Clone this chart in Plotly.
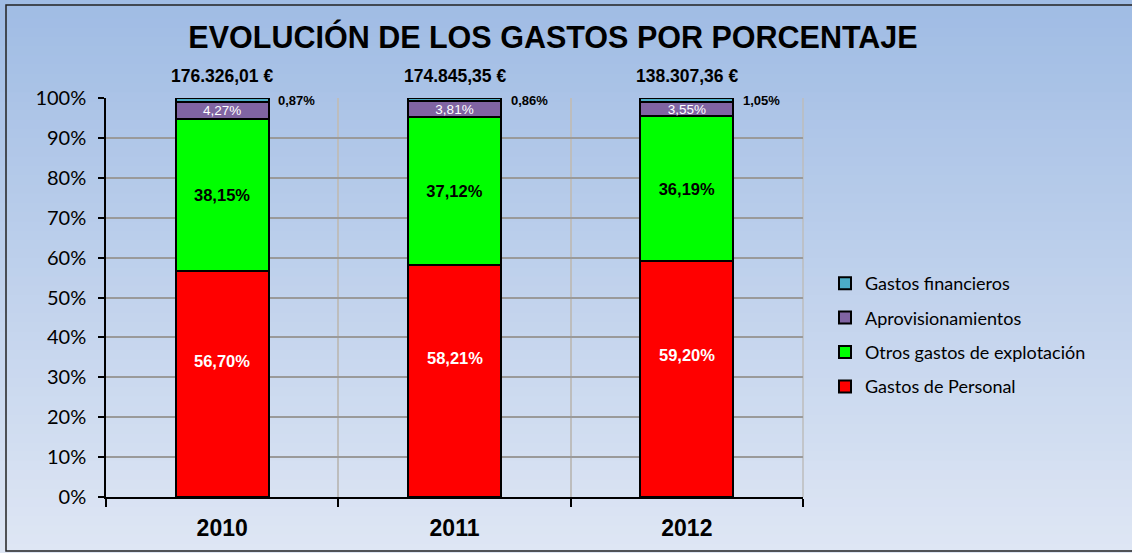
import plotly.graph_objects as go

years = ["2010", "2011", "2012"]
totals = ["176.326,01 €", "174.845,35 €", "138.307,36 €"]

gastos_personal = [56.70, 58.21, 59.20]
otros_gastos = [38.15, 37.12, 36.19]
aprovisionamientos = [4.27, 3.81, 3.55]
gastos_financieros = [0.87, 0.86, 1.05]

W, H = 1132, 553
L, R, T, B = 106, 329, 98, 56
PW, PH = W - L - R, H - T - B


def pct(v):
    return f"{v:.2f}".replace(".", ",") + "%"


fig = go.Figure()

# (name, values, colour, inside label font or None)
series = [
    ("Gastos de Personal", gastos_personal, "#FF0000", None),
    ("Otros gastos de explotación", otros_gastos, "#00FF00",
     dict(color="black", size=16.5, family="Liberation Sans", weight="bold")),
    ("Aprovisionamientos", aprovisionamientos, "#8064A2",
     dict(color="white", size=13.5, family="Liberation Sans")),
    ("Gastos financieros", gastos_financieros, "#4BACC6", None),
]

for rank, (name, vals, color, tfont) in enumerate(series):
    fig.add_trace(go.Bar(
        x=years,
        y=vals,
        name=name,
        legendgroup=name,
        legendrank=10 - rank,
        marker=dict(color=color, line=dict(color="black", width=2)),
        text=[pct(v) for v in vals] if tfont else None,
        textposition="inside" if tfont else "none",
        insidetextanchor="middle",
        constraintext="none",
        textfont=tfont,
        width=0.4,
        hoverinfo="skip",
    ))

# labels placed by hand in the original (x = category index)
for i, yr in enumerate(years):
    top = gastos_personal[i] + otros_gastos[i] + aprovisionamientos[i] + gastos_financieros[i]
    fig.add_annotation(x=i, y=top, text=f"<b>{totals[i]}</b>", showarrow=False,
                       yanchor="bottom", yshift=10,
                       font=dict(family="Liberation Sans", size=17.5, color="black"))
    fig.add_annotation(x=i, y=top, text=f"<b>{pct(gastos_financieros[i])}</b>", showarrow=False,
                       xanchor="left", yanchor="middle", xshift=54, yshift=-2,
                       font=dict(family="Liberation Sans", size=13, color="black"))
    fig.add_annotation(x=i, y=gastos_personal[i] * 0.6, text=f"<b>{pct(gastos_personal[i])}</b>",
                       showarrow=False, yanchor="middle",
                       font=dict(family="Liberation Sans", size=16.5, color="white"))

# gradient background + frame
shapes = []
n = 60
top_c = (160, 188, 228)
bot_c = (222, 230, 244)
x0p, x1p = -L / PW, 1 + R / PW
y0p, y1p = -B / PH, 1 + T / PH
for k in range(n):
    f = k / (n - 1)
    c = tuple(round(top_c[j] + (bot_c[j] - top_c[j]) * f) for j in range(3))
    ya = y1p - (y1p - y0p) * k / n
    yb = y1p - (y1p - y0p) * (k + 1) / n
    shapes.append(dict(type="rect", xref="paper", yref="paper", x0=x0p, x1=x1p,
                       y0=yb - 0.002, y1=ya, fillcolor=f"rgb{c}", line=dict(width=0),
                       layer="below"))
shapes.append(dict(type="rect", xref="paper", yref="paper",
                   x0=(6 - L) / PW, x1=(1140 - L) / PW,
                   y0=(H - 551 - B) / PH, y1=(H - 5 - B) / PH,
                   line=dict(color="#222222", width=1.5), fillcolor="rgba(0,0,0,0)"))
# right border of the plot area
shapes.append(dict(type="line", xref="paper", yref="paper", x0=1, x1=1, y0=0, y1=1,
                   line=dict(color="#BDBDBD", width=1.5), layer="below"))

fig.update_layout(
    width=W, height=H,
    margin=dict(l=L, r=R, t=T, b=B, autoexpand=False),
    barmode="stack",
    paper_bgcolor="rgba(0,0,0,0)",
    plot_bgcolor="rgba(0,0,0,0)",
    shapes=shapes,
    title=dict(text="<b>EVOLUCIÓN DE LOS GASTOS POR PORCENTAJE</b>",
               x=553 / W, xanchor="center", xref="container",
               y=1 - 37 / H, yanchor="middle", yref="container",
               font=dict(family="Liberation Sans", size=30.5, color="black")),
    legend=dict(x=(825 - L) / PW, y=(H - B - 265) / PH, xanchor="left", yanchor="top",
                traceorder="grouped", bgcolor="rgba(0,0,0,0)",
                font=dict(family="Lato", size=18, color="black"),
                itemwidth=30, tracegroupgap=8),
    showlegend=True,
    xaxis=dict(
        type="category", automargin=False, range=[-0.5, 2.5],
        tickson="boundaries", showgrid=True, gridcolor="#BDBDBD", gridwidth=1.5,
        showline=True, linecolor="black", linewidth=1.5,
        ticks="outside", ticklen=8, tickcolor="black", tickwidth=1.5,
        tickfont=dict(family="Liberation Sans", size=23, color="black", weight="bold"),
        ticklabelstandoff=10,
    ),
    yaxis=dict(
        range=[0, 100], dtick=10, ticksuffix="%", automargin=False,
        showgrid=True, gridcolor="#9A9A9A", gridwidth=1.5,
        showline=True, linecolor="black", linewidth=1.5,
        ticks="outside", ticklen=6, tickcolor="black", tickwidth=1.5,
        tickfont=dict(family="Lato", size=20, color="black"),
        ticklabelstandoff=8,
        zeroline=False,
    ),
)

fig.write_html("out.html", config={"displayModeBar": False},
               post_script="document.body.style.margin='0';")
